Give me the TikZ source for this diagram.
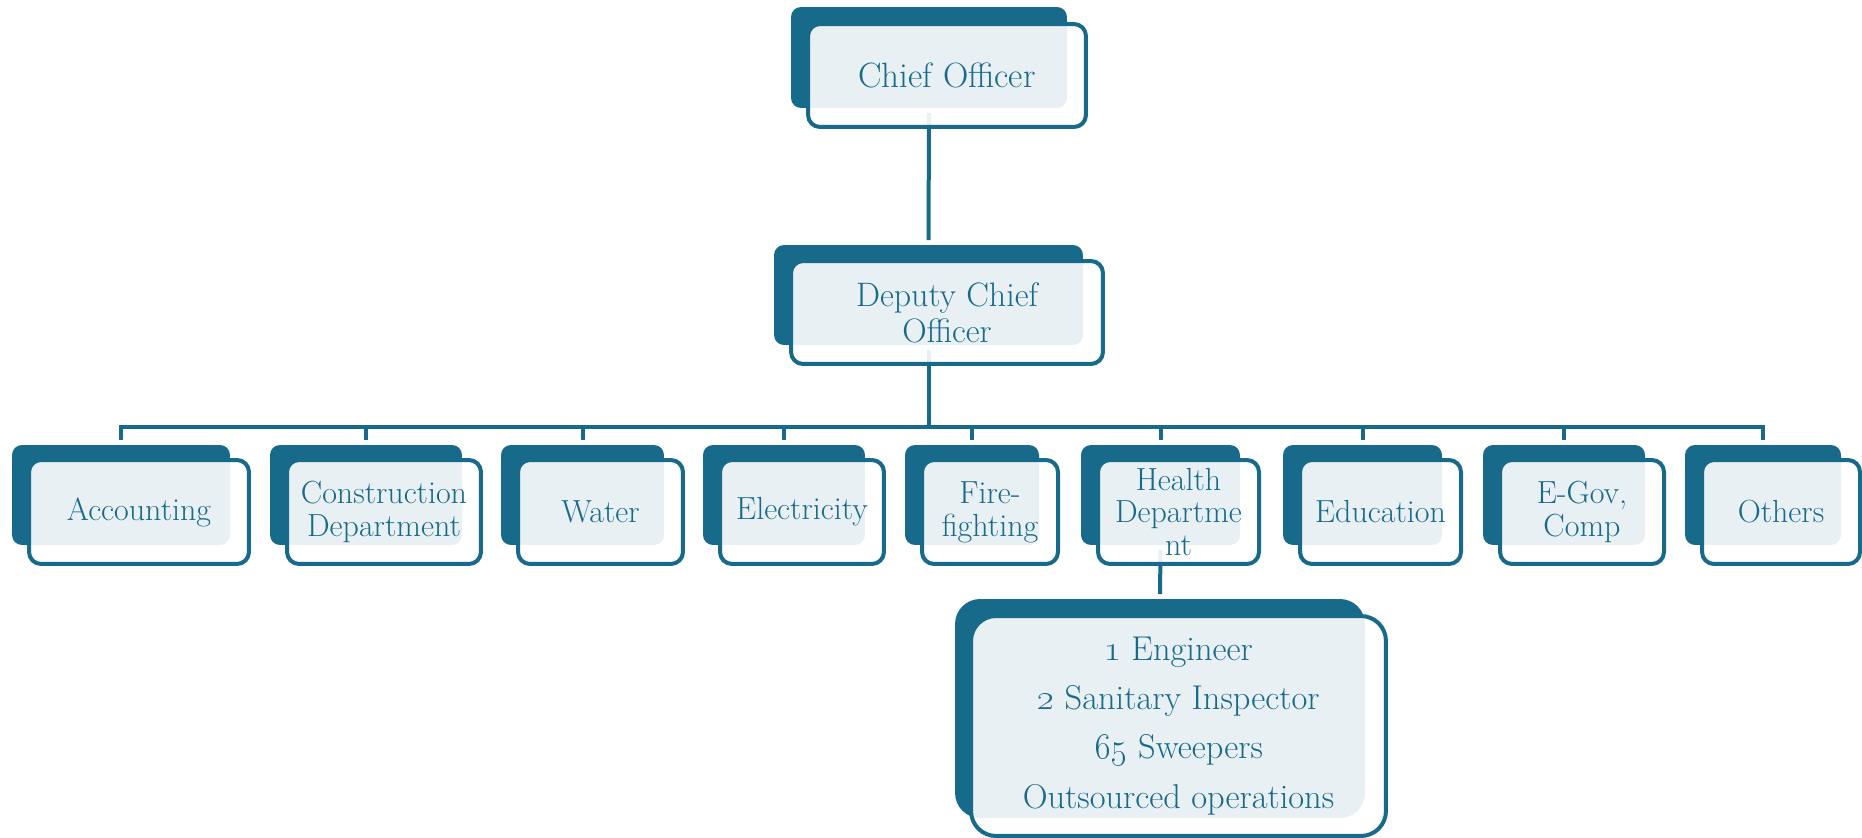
\documentclass[tikz,border=0pt]{standalone}

\definecolor{orgblue}{RGB}{24,106,138}

\tikzset{
  plate/.style={fill=orgblue, rounded corners=0.2cm, inner sep=0pt, outer sep=0pt},
  unit/.style={draw=orgblue, line width=0.08cm, rounded corners=0.24cm,
    fill=white, fill opacity=0.9, text opacity=1, text=orgblue,
    align=center, inner sep=0pt, outer sep=0pt},
  link/.style={draw=orgblue, line width=0.08cm, shorten <=0.1cm, shorten >=0.1cm},
}

\begin{document}
\begin{tikzpicture}[x=0.02cm,y=-0.02cm]
  \useasboundingbox (0,0) rectangle (1862,838);

  % dark plates behind the boxes
  \node[plate,minimum width=5.52cm,minimum height=2.02cm] (chief-b) at (929,57.5) {};
  \node[plate,minimum width=6.18cm,minimum height=2.00cm] (deputy-b) at (928.5,295) {};
  \node[plate,minimum width=8.20cm,minimum height=4.38cm,rounded corners=0.5cm] (staff-b) at (1160,708.5) {};
  \foreach \name/\x/\w in {acc/139/4.40, con/384/3.88, wat/600.5/3.30, ele/802/3.28,
      fir/990/2.72, hea/1178.5/3.22, edu/1380.5/3.22, gov/1582/3.28, oth/1781/3.16}
    \node[plate,minimum width={\w cm-0.04cm},minimum height=2.00cm] (\name-b) at (\x-18,495) {};

  % connectors
  \coordinate (bus) at (928.5,427);
  \draw[link] (chief-b.south) -- (deputy-b.north);
  \draw[link,shorten >=0pt] (deputy-b.south) -- (bus);
  \draw[link] (acc-b.north) |- (bus) -| (oth-b.north);
  \foreach \name in {con,wat,ele,fir,hea,edu,gov}
    \draw[link,shorten >=0pt] (\name-b.north) -- (\name-b.north |- bus);
  \draw[link] (hea-b.south) -- (staff-b.north);

  % framed boxes
  \node[unit,minimum width=5.56cm,minimum height=2.06cm,font=\fontsize{20}{24}\selectfont]
    (chief) at (947,75.5) {Chief Officer};
  \node[unit,minimum width=6.24cm,minimum height=2.06cm,font=\fontsize{19.3}{20.5}\selectfont]
    (deputy) at (947,312.5) {Deputy Chief\\Officer};
  \foreach \name/\x/\w/\txt in {acc/139/4.40/Accounting, con/384/3.88/{Construction\\Department},
      wat/600.5/3.30/Water, ele/802/3.28/Electricity, fir/990/2.72/{Fire-\\fighting},
      hea/1178.5/3.22/{Health\\Departme\\nt}, edu/1380.5/3.22/Education,
      gov/1582/3.28/{E-Gov,\\Comp}, oth/1781/3.16/Others}
    \node[unit,minimum width=\w cm,minimum height=2.08cm,font=\fontsize{18.2}{18.7}\selectfont]
      (\name) at (\x,512) {\txt};
  \node[unit,minimum width=8.30cm,minimum height=4.40cm,rounded corners=0.5cm,
    font=\fontsize{19.6}{28}\selectfont] (staff) at (1178.5,726)
    {\oldstylenums{1} Engineer\\\oldstylenums{2} Sanitary Inspector\\\oldstylenums{65} Sweepers\\Outsourced operations};
\end{tikzpicture}
\end{document}
